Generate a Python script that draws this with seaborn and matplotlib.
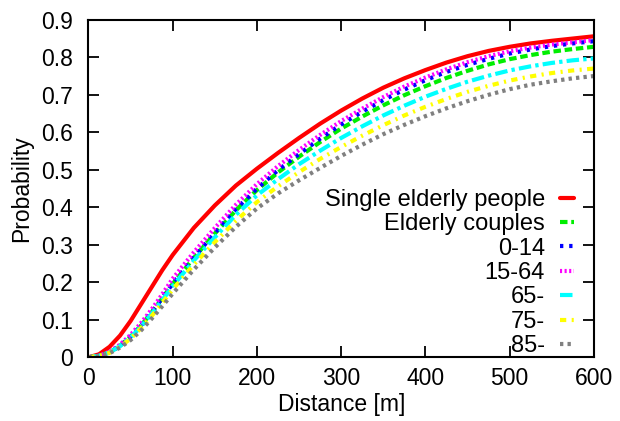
import matplotlib
matplotlib.use("Agg")
import matplotlib.pyplot as plt
import seaborn as sns
import pandas as pd

# Distance grid [m]
distance = [0, 12.5, 25, 37.5, 50, 62.5, 75, 87.5, 100, 125, 150, 175, 200, 225, 250,
            275, 300, 325, 350, 375, 400, 425, 450, 475, 500, 525, 550, 575, 600]

single_elderly = [0.0, 0.008, 0.028, 0.058, 0.097, 0.142, 0.187, 0.232, 0.273,
                  0.345, 0.405, 0.458, 0.503, 0.545, 0.585, 0.623, 0.658, 0.69,
                  0.719, 0.744, 0.766, 0.786, 0.803, 0.817, 0.828, 0.837, 0.844,
                  0.85, 0.856]
elderly_couples = [0.0, 0.004, 0.013, 0.031, 0.055, 0.085, 0.12, 0.157, 0.196,
                   0.265, 0.33, 0.392, 0.446, 0.493, 0.535, 0.574, 0.61, 0.642,
                   0.672, 0.699, 0.723, 0.745, 0.764, 0.781, 0.795, 0.806, 0.815,
                   0.822, 0.828]
age_0_14 = [0.0, 0.004, 0.013, 0.031, 0.055, 0.085, 0.12, 0.158, 0.197,
            0.266, 0.332, 0.395, 0.45, 0.499, 0.542, 0.583, 0.621, 0.655,
            0.686, 0.714, 0.739, 0.761, 0.78, 0.796, 0.81, 0.821, 0.83,
            0.837, 0.843]
age_15_64 = [0.0, 0.004, 0.015, 0.034, 0.06, 0.092, 0.128, 0.168, 0.21,
             0.28, 0.345, 0.407, 0.462, 0.51, 0.553, 0.593, 0.63, 0.663,
             0.694, 0.722, 0.746, 0.768, 0.787, 0.803, 0.816, 0.826, 0.834,
             0.84, 0.846]
age_65 = [0.0, 0.004, 0.013, 0.03, 0.053, 0.082, 0.116, 0.152, 0.19,
          0.258, 0.32, 0.38, 0.432, 0.475, 0.515, 0.551, 0.585, 0.616,
          0.645, 0.671, 0.695, 0.716, 0.735, 0.751, 0.765, 0.776, 0.785,
          0.792, 0.797]
age_75 = [0.0, 0.004, 0.012, 0.028, 0.05, 0.078, 0.11, 0.145, 0.181,
          0.247, 0.307, 0.364, 0.414, 0.456, 0.494, 0.529, 0.561, 0.591,
          0.619, 0.645, 0.668, 0.689, 0.708, 0.724, 0.738, 0.749, 0.758,
          0.765, 0.77]
age_85 = [0.0, 0.003, 0.011, 0.026, 0.046, 0.072, 0.103, 0.136, 0.17,
          0.234, 0.293, 0.348, 0.397, 0.437, 0.472, 0.505, 0.537, 0.567,
          0.595, 0.62, 0.643, 0.664, 0.683, 0.7, 0.715, 0.727, 0.736,
          0.744, 0.75]

groups = ["Single elderly people", "Elderly couples", "0-14", "15-64", "65-", "75-", "85-"]
series = [single_elderly, elderly_couples, age_0_14, age_15_64, age_65, age_75, age_85]

colors = ["#ff0000", "#00ee00", "#0000ff", "#ff00ff", "#00ffff", "#ffff00", "#808080"]
dash_styles = ["", (1.8, 0.9), (0.8, 1.4), (0.5, 0.6), (3.0, 1.0, 0.8, 1.0),
               (1.5, 1.3, 0.5, 1.3), (0.8, 1.0)]

df = pd.DataFrame({
    "Distance [m]": [d for _ in groups for d in distance],
    "Probability": [v for s in series for v in s],
    "group": [g for g in groups for _ in distance],
})

sns.set_style("ticks")
plt.rcParams["font.family"] = ["Liberation Sans", "DejaVu Sans"]
plt.rcParams.update({"text.color": "black", "axes.labelcolor": "black",
                     "xtick.color": "black", "ytick.color": "black",
                     "axes.edgecolor": "black"})
FS = 16.5
LEG_FS = 17

fig = plt.figure(figsize=(6.2, 4.21), dpi=100)
ax = fig.add_axes([0.1427, 0.1513, 0.8153, 0.8017])

sns.lineplot(data=df, x="Distance [m]", y="Probability", hue="group", style="group",
             hue_order=groups, style_order=groups,
             palette=dict(zip(groups, colors)), dashes=dict(zip(groups, dash_styles)),
             linewidth=3, ax=ax, legend=True)

ax.set_xlim(0, 600)
ax.set_ylim(0, 0.9)
ax.set_xticks(range(0, 601, 100))
ax.set_yticks([i / 10 for i in range(10)])
ax.set_yticklabels(["0"] + [f"{i / 10:.1f}" for i in range(1, 10)])

for side in ["top", "right", "left", "bottom"]:
    ax.spines[side].set_visible(True)
    ax.spines[side].set_linewidth(1.5)
    ax.spines[side].set_color("black")
ax.tick_params(direction="in", length=8, width=1.3, top=True, right=True,
               labelsize=FS, colors="black")
ax.tick_params(axis="y", pad=11)
ax.tick_params(axis="x", pad=7)
ax.set_xlabel("Distance [m]", fontsize=FS, labelpad=2.5, color="black")
ax.set_ylabel("Probability", fontsize=FS, labelpad=6, color="black")

handles, labels = ax.get_legend_handles_labels()
leg = ax.legend(handles, labels, loc="lower right", bbox_to_anchor=(0.968, -0.01),
                frameon=False, markerfirst=False, fontsize=LEG_FS, handlelength=0.62,
                handletextpad=0.62, labelspacing=0.1, borderpad=0.15, borderaxespad=0)
for t in leg.get_texts():
    t.set_color("black")

fig.savefig("out.png", dpi=100)
